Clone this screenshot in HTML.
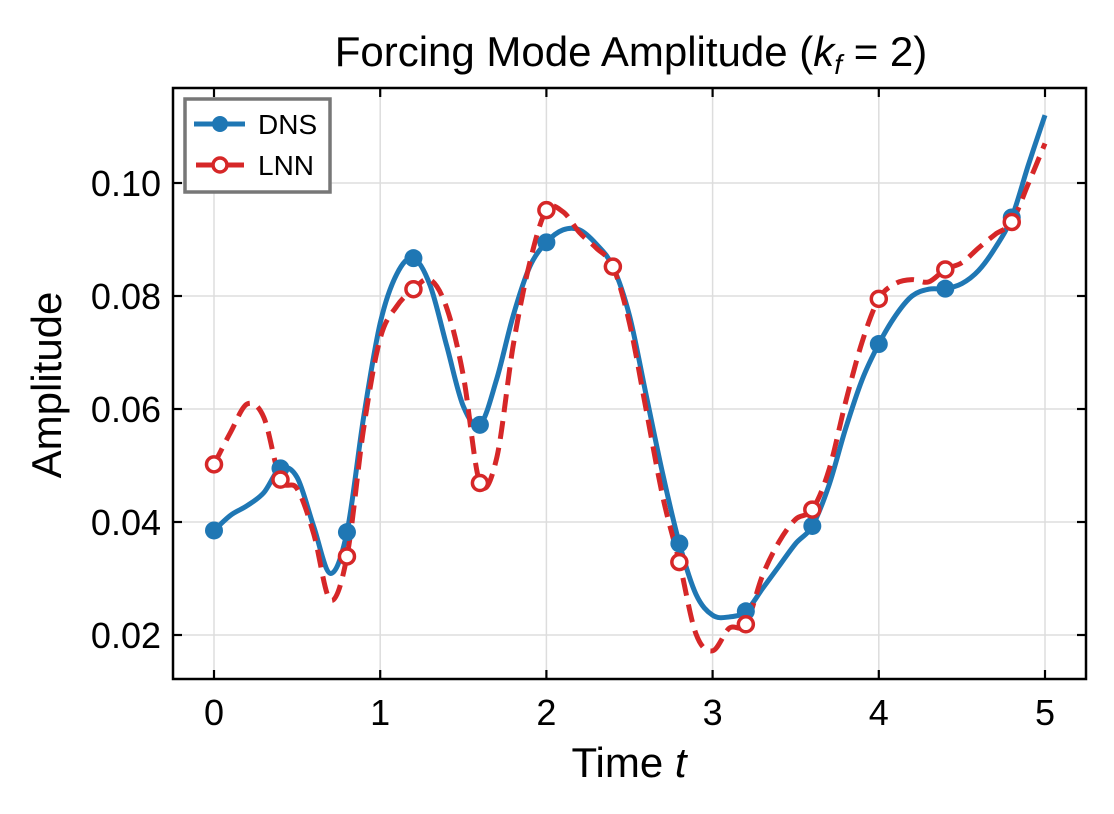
<!DOCTYPE html>
<html><head><meta charset="utf-8"><style>
html,body{margin:0;padding:0;background:#fff;}
svg{display:block;font-family:"Liberation Sans",Arial,sans-serif;}
</style></head><body>
<svg id="chart" width="1114" height="814" viewBox="0 0 1114 814" xmlns="http://www.w3.org/2000/svg">
<rect width="1114" height="814" fill="#fff"/>
<g id="grid"></g>
<g id="series"></g>
<rect x="173" y="88" width="913" height="591" fill="none" stroke="#000" stroke-width="2.5"/>
<g id="ticks"></g>
<text x="631" y="66" font-size="42" text-anchor="middle">Forcing Mode Amplitude (<tspan font-style="italic">k</tspan><tspan font-style="italic" font-size="28" dy="8">f</tspan><tspan dy="-8"> = 2)</tspan></text>
<text x="629" y="777" font-size="42" text-anchor="middle">Time <tspan font-style="italic">t</tspan></text>
<text transform="translate(61,385) rotate(-90)" font-size="42" text-anchor="middle">Amplitude</text>
<g>
<rect x="185" y="99" width="145" height="93" fill="#fff" stroke="#777" stroke-width="3.5"/>
<line x1="194" y1="124" x2="245" y2="124" stroke="#1f77b4" stroke-width="5"/>
<circle cx="220" cy="124" r="8" fill="#1f77b4"/>
<text x="258" y="134" font-size="28">DNS</text>
<line x1="196" y1="165" x2="244" y2="165" stroke="#d62728" stroke-width="5"/>
<circle cx="220" cy="165" r="7" fill="#fff" stroke="#d62728" stroke-width="3.5"/>
<text x="258" y="175" font-size="28">LNN</text>
</g>
</svg>
<script>
const times=[0,0.1,0.2,0.3,0.4,0.5,0.6,0.7,0.8,0.9,1.0,1.1,1.2,1.3,1.4,1.5,1.6,1.7,1.8,1.9,2.0,2.1,2.2,2.3,2.4,2.5,2.6,2.7,2.8,2.9,3.0,3.1,3.2,3.3,3.4,3.5,3.6,3.7,3.8,3.9,4.0,4.1,4.2,4.3,4.4,4.5,4.6,4.7,4.8,4.9,5.0];
const dns=[0.0385,0.0412,0.0429,0.0452,0.0495,0.0479,0.0392,0.0309,0.0382,0.0585,0.0752,0.0839,0.0867,0.0819,0.0712,0.0605,0.0572,0.0652,0.0765,0.0852,0.0895,0.0917,0.0917,0.0892,0.0852,0.0765,0.0625,0.0485,0.0362,0.0272,0.0235,0.0232,0.0242,0.0282,0.0322,0.0362,0.0393,0.0465,0.0565,0.0652,0.0715,0.0765,0.0800,0.0812,0.0813,0.0822,0.0845,0.0885,0.0939,0.1032,0.1120];
const lnn=[0.0502,0.0559,0.0609,0.0585,0.0475,0.0459,0.0379,0.0262,0.0339,0.0565,0.0725,0.0782,0.0812,0.0829,0.0779,0.0659,0.0469,0.0512,0.0712,0.0859,0.0952,0.0949,0.0912,0.0885,0.0852,0.0752,0.0599,0.0445,0.0329,0.0202,0.0172,0.0212,0.0219,0.0305,0.0365,0.0405,0.0422,0.0492,0.0612,0.0719,0.0795,0.0822,0.0829,0.0825,0.0847,0.0859,0.0885,0.0909,0.0931,0.0999,0.1070];
const xTicks=[0,1,2,3,4,5];
const yTicks=[0.02,0.04,0.06,0.08,0.10];
const yTickLabels=["0.02","0.04","0.06","0.08","0.10"];
const markerEvery=4;

const NS="http://www.w3.org/2000/svg";
const X=t=>214+t*166.2;
const Y=v=>635-(v-0.02)*5650;
function mk(tag,attrs,parent){const e=document.createElementNS(NS,tag);for(const k in attrs)e.setAttribute(k,attrs[k]);parent.appendChild(e);return e;}
const grid=document.getElementById('grid'),ticks=document.getElementById('ticks'),series=document.getElementById('series');
xTicks.forEach(t=>{
  const g=mk('line',{x1:X(t),x2:X(t),y1:88,y2:679,stroke:'#ddd','stroke-width':1.5},grid);
  
  
  [[679,670],[88,97]].forEach(p=>{const l=mk('line',{x1:X(t),x2:X(t),y1:p[0],y2:p[1],stroke:'#000','stroke-width':2.2},ticks);
  
  });
  const tx=mk('text',{x:X(t),y:725,'font-size':36,'text-anchor':'middle'},ticks);tx.textContent=t;
  
  
});
yTicks.forEach((v,i)=>{
  const g=mk('line',{x1:173,x2:1086,y1:Y(v),y2:Y(v),stroke:'#ddd','stroke-width':1.5},grid);
  
  
  [[173,182],[1086,1077]].forEach(p=>{const l=mk('line',{x1:p[0],x2:p[1],y1:Y(v),y2:Y(v),stroke:'#000','stroke-width':2.2},ticks);
  
  });
  const tx=mk('text',{x:161,y:Y(v)+13,'font-size':36,'text-anchor':'end'},ticks);tx.textContent=yTickLabels[i];
  
  
});
function smooth(vals){
  const p=vals.map((v,i)=>[X(times[i]),Y(v)]);
  let d='M'+p[0][0]+','+p[0][1];
  for(let i=0;i<p.length-1;i++){
    const p0=p[i-1]||p[i],p1=p[i],p2=p[i+1],p3=p[i+2]||p[i+1];
    const c1=[p1[0]+(p2[0]-p0[0])/6,p1[1]+(p2[1]-p0[1])/6];
    const c2=[p2[0]-(p3[0]-p1[0])/6,p2[1]-(p3[1]-p1[1])/6];
    d+=' C'+c1[0]+','+c1[1]+' '+c2[0]+','+c2[1]+' '+p2[0]+','+p2[1];
  }
  return d;
}
const dl=mk('path',{d:smooth(dns),fill:'none',stroke:'#1f77b4','stroke-width':5},series);


const ll=mk('path',{d:smooth(lnn),fill:'none',stroke:'#d62728','stroke-width':5,'stroke-dasharray':'18 9'},series);


times.forEach((t,i)=>{
  if(i%markerEvery)return;
  const a=mk('circle',{cx:X(t),cy:Y(dns[i]),r:9,fill:'#1f77b4'},series);
  
  
});
times.forEach((t,i)=>{
  if(i%markerEvery)return;
  const b=mk('circle',{cx:X(t),cy:Y(lnn[i]),r:7.5,fill:'#fff',stroke:'#d62728','stroke-width':3.5},series);
  
  
});
</script>
</body></html>
